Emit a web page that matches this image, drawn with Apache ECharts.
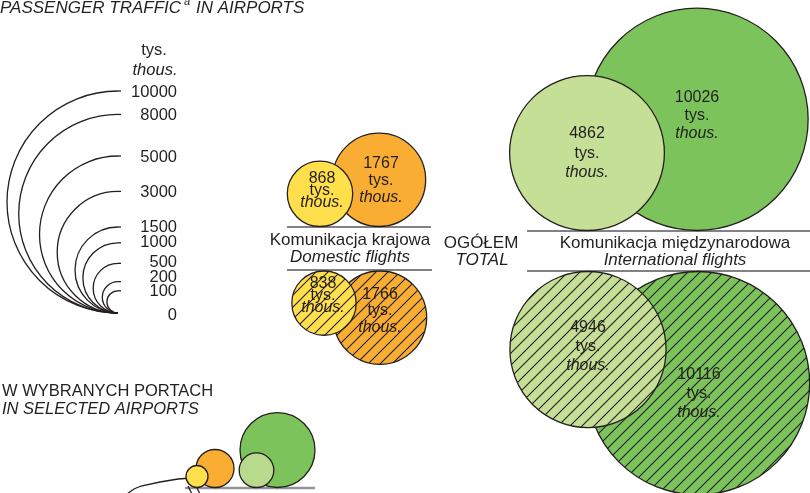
<!DOCTYPE html>
<html>
<head>
<meta charset="utf-8">
<script src="https://cdn.jsdelivr.net/npm/echarts@6/dist/echarts.min.js"></script>
<style>
  html, body { margin: 0; padding: 0; background: #fff; }
  #main { width: 810px; height: 493px; }
</style>
</head>
<body>
<div id="main"></div>
<script>
// dane (tys. pasazerow)
var scaleValues = [10000, 8000, 5000, 3000, 1500, 1000, 500, 200, 100, 0];
var domesticTop = [868, 1767];
var domesticBottom = [838, 1766];
var internationalTop = [4862, 10026];
var internationalBottom = [4946, 10116];
var airportValues = [293, 98, 1140, 243]; // orange, yellow, green, light green
var groupPl = ['Komunikacja krajowa', 'OGÓŁEM', 'Komunikacja międzynarodowa'];
var groupEn = ['Domestic flights', 'TOTAL', 'International flights'];

var FONT = 'Liberation Sans, Arial, sans-serif';
var INK = '#231f20';
var YELLOW = '#ffe04c', ORANGE = '#f9ae33', LGREEN = '#c6df96', GREEN = '#7cc35c';

// promien proporcjonalny do pierwiastka (pole ~ wartosc)
var R0 = 111, V0 = 10000;
function radius(v) { return R0 * Math.sqrt(v / V0); }

// kreskowanie
function hatch(bg) {
  var s = 12;
  var c = document.createElement('canvas');
  c.width = s; c.height = s;
  var ctx = c.getContext('2d');
  ctx.fillStyle = bg;
  ctx.fillRect(0, 0, s, s);
  ctx.strokeStyle = INK;
  ctx.lineWidth = 1.1;
  ctx.beginPath();
  ctx.moveTo(-1, s + 1); ctx.lineTo(s + 1, -1);
  ctx.moveTo(-1, 1); ctx.lineTo(1, -1);
  ctx.moveTo(s - 1, s + 1); ctx.lineTo(s + 1, s - 1);
  ctx.stroke();
  return { image: c, repeat: 'repeat' };
}

function bubbles(values, lay) {
  return {
    type: 'custom',
    coordinateSystem: 'cartesian2d',
    silent: true,
    clip: false,
    data: values.map(function (v, i) { return [lay.x[i], lay.base, v]; }),
    renderItem: function (params, api) {
      var i = params.dataIndex;
      var v = api.value(2);
      var r = radius(v);
      var c = api.coord([api.value(0), api.value(1) - lay.dir * r]);
      var rp = api.size([r, r])[0];
      var children = [{
        type: 'circle',
        shape: { cx: c[0], cy: c[1], r: rp },
        style: { fill: lay.fill[i], stroke: INK, lineWidth: 1.3 }
      }];
      if (lay.label) {
        var lh = lay.lh[i];
        children.push({
          type: 'text',
          style: {
            x: c[0] + lay.dx[i], y: c[1] + lay.dy[i],
            text: '{n|' + v + '}\n{n|tys.}\n{i|thous.}',
            align: 'center', verticalAlign: 'middle',
            textAlign: 'center', textVerticalAlign: 'middle',
            fill: INK, fontFamily: FONT, fontSize: 16,
            rich: {
              n: { fontSize: 16, fontFamily: FONT, lineHeight: lh, fill: INK, align: 'center' },
              i: { fontSize: 16, fontFamily: FONT, fontStyle: 'italic', lineHeight: lh, fill: INK, align: 'center' }
            }
          }
        });
      }
      return { type: 'group', children: children };
    }
  };
}

var scaleX = 118, scaleBase = 313, scaleLabelX = 177;
var scaleNudge = [1, 1, 1, 1, 0, 0, -1, -4, 1, 2];

var scaleSeries = {
  type: 'custom',
  coordinateSystem: 'cartesian2d',
  silent: true,
  clip: false,
  data: scaleValues.map(function (v) { return [scaleX, scaleBase, v]; }),
  renderItem: function (params, api) {
    var v = api.value(2);
    var r = radius(v);
    var b = api.coord([api.value(0), api.value(1)]);
    var t = api.coord([api.value(0), api.value(1) - 2 * r]);
    var rp = (b[1] - t[1]) / 2;
    var children = [];
    if (v > 0) {
      children.push({
        type: 'arc',
        shape: { cx: b[0], cy: b[1] - rp, r: rp, startAngle: Math.PI / 2, endAngle: Math.PI * 1.5, clockwise: true },
        style: { fill: 'none', stroke: INK, lineWidth: 1.3 }
      });
      children.push({
        type: 'line',
        shape: { x1: t[0], y1: t[1], x2: t[0] + 3, y2: t[1] },
        style: { stroke: INK, lineWidth: 1.3 }
      });
    }
    children.push({
      type: 'text',
      style: {
        x: scaleLabelX, y: t[1] + scaleNudge[params.dataIndex],
        text: String(v),
        align: 'right', verticalAlign: 'middle',
        textAlign: 'right', textVerticalAlign: 'middle',
        fill: INK, fontFamily: FONT, fontSize: 16.5
      }
    });
    return { type: 'group', children: children };
  }
};

function txt(x, y, s, opt) {
  opt = opt || {};
  return {
    type: 'text', x: x, y: y, silent: true,
    style: {
      text: s,
      fill: INK,
      font: (opt.italic ? 'italic ' : '') + (opt.size || 17) + 'px ' + FONT,
      align: opt.align || 'center', verticalAlign: 'middle',
      textAlign: opt.align || 'center', textVerticalAlign: 'middle'
    }
  };
}
function rule(x1, y, x2, col, w) {
  return {
    type: 'line', silent: true,
    shape: { x1: x1, y1: y, x2: x2, y2: y },
    style: { stroke: col || '#58595b', lineWidth: w || 1.4 }
  };
}

var chart = echarts.init(document.getElementById('main'));
chart.setOption({
  animation: false,
  grid: { left: 0, right: 0, top: 0, bottom: 0 },
  xAxis: { type: 'value', min: 0, max: 810, show: false },
  yAxis: { type: 'value', min: 0, max: 493, inverse: true, show: false },
  graphic: [
    txt(0, 8.5, 'PASSENGER TRAFFIC', { italic: true, align: 'left' }),
    txt(184, 2, 'a', { italic: true, align: 'left', size: 11 }),
    txt(196, 8.5, 'IN AIRPORTS', { italic: true, align: 'left' }),
    txt(154, 50, 'tys.', { size: 16.5 }),
    txt(155, 70, 'thous.', { italic: true, size: 16.5 }),
    rule(287, 227, 431),
    rule(287, 270, 432),
    rule(527, 231, 810),
    rule(527, 271, 810),
    txt(350, 240.5, groupPl[0]),
    txt(350, 257.5, groupEn[0], { italic: true }),
    txt(481, 243, groupPl[1]),
    txt(482, 260.5, groupEn[1], { italic: true }),
    txt(675, 243, groupPl[2]),
    txt(675, 260, groupEn[2], { italic: true }),
    txt(2, 391, 'W WYBRANYCH PORTACH', { align: 'left', size: 16.5 }),
    txt(2, 409, 'IN SELECTED AIRPORTS', { align: 'left', size: 16.5, italic: true }),
    rule(185, 488, 315, '#939598', 2.5),
    {
      type: 'polyline', silent: true,
      shape: { points: [[127, 494], [134, 489], [141, 486], [160, 482], [178, 479], [192, 478]] },
      style: { fill: 'none', stroke: INK, lineWidth: 1.3 }
    },
    {
      type: 'polyline', silent: true,
      shape: { points: [[188, 486], [192, 494]] },
      style: { fill: 'none', stroke: INK, lineWidth: 1.3 }
    },
    {
      type: 'polyline', silent: true,
      shape: { points: [[197, 488], [200, 494]] },
      style: { fill: 'none', stroke: INK, lineWidth: 1.3 }
    }
  ],
  series: [
    scaleSeries,
    bubbles(domesticTop.slice().reverse(), {
      x: [379, 320], base: 226.5, dir: 1, fill: [ORANGE, YELLOW], label: true,
      dx: [2, 2], dy: [1, -3], lh: [17, 12]
    }),
    bubbles(domesticBottom.slice().reverse(), {
      x: [380, 324], base: 271, dir: -1, fill: [hatch(ORANGE), hatch(YELLOW)], label: true,
      dx: [0, -1], dy: [-7, -8], lh: [16.5, 12]
    }),
    bubbles(internationalTop.slice().reverse(), {
      x: [697, 587], base: 230.5, dir: 1, fill: [GREEN, LGREEN], label: true,
      dx: [0, 0], dy: [-4, 0], lh: [18, 19.5]
    }),
    bubbles(internationalBottom.slice().reverse(), {
      x: [698, 588], base: 271.5, dir: -1, fill: [hatch(GREEN), hatch(LGREEN)], label: true,
      dx: [1, 0], dy: [10, -3], lh: [19, 19]
    }),
    bubbles(airportValues, {
      x: [215, 197, 277.5, 256.5], base: 487.5, dir: 1,
      fill: [ORANGE, YELLOW, GREEN, '#b9da8c'], label: false
    })
  ]
});
</script>
</body>
</html>
